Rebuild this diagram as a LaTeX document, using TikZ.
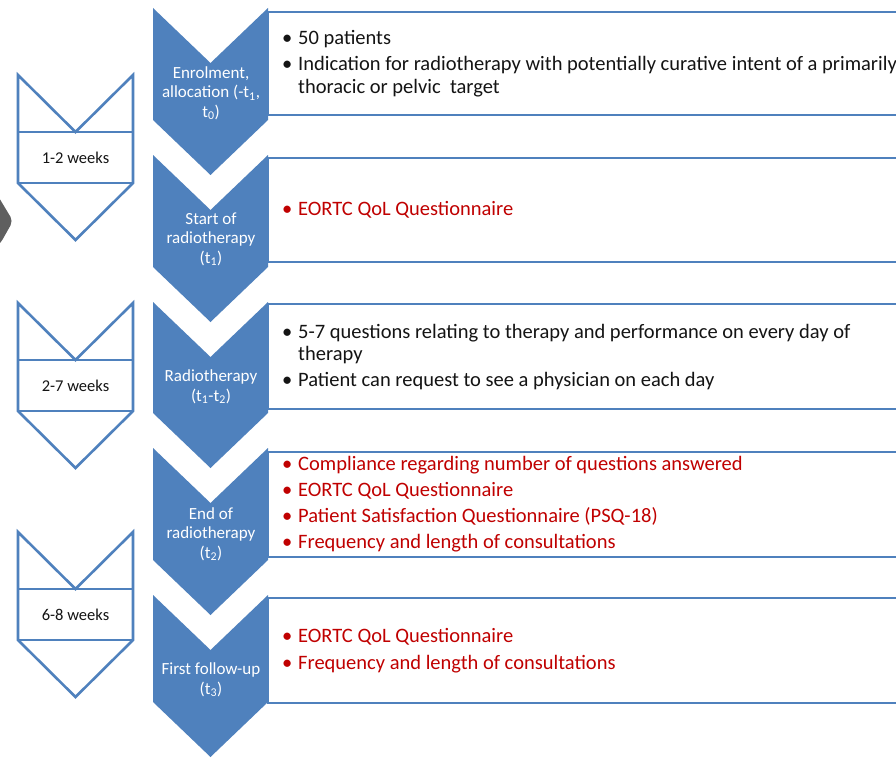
\documentclass[tikz,border=0pt]{standalone}
\usepackage{fontspec}
\setmainfont{Carlito}
\definecolor{cblue}{RGB}{79,129,189}
\definecolor{cred}{RGB}{192,0,0}
\definecolor{ctext}{RGB}{20,20,20}
\definecolor{cgray}{RGB}{95,95,95}
\newcommand{\bul}{\makebox[16pt][l]{\textbullet}}
\newcommand{\cont}{\hspace*{16pt}}
\tikzset{
  bluechev/.style={fill=cblue},
  chevtext/.style={text=white, font=\fontsize{17}{19.5}\selectfont, align=center, inner sep=0pt},
  infobox/.style={draw=cblue, line width=2.8pt, fill=white},
  boxtext/.style={anchor=west, inner sep=0pt, align=left, text=ctext, font=\fontsize{20.5}{22.5}\selectfont},
  redtext/.style={boxtext, text=cred},
  outchev/.style={draw=cblue, line width=2.6pt, fill=white, line join=miter},
  bandline/.style={draw=cblue, line width=2.6pt},
  weektext/.style={font=\fontsize{16.5}{19}\selectfont, text=ctext, inner sep=0pt}
}
\begin{document}
\begin{tikzpicture}[x=1pt,y=-1pt]
\useasboundingbox (0,0) rectangle (896,760);
\clip (0,0) rectangle (896,760);
\fill[white] (0,0) rectangle (896,760);
% gray shape at the left edge
\fill[cgray, rounded corners=5pt] (-30,175) -- (-2,196) -- (13,221) -- (0,244) -- (-30,262) -- cycle;
% left outline chevrons
\foreach \T/\lab/\nm in {75/1-2 weeks/wa, 303/2-7 weeks/wb, 532/6-8 weeks/wc}{
  \draw[outchev] (18,\T) -- (75.5,\T+57) -- (133,\T) -- (133,\T+108) -- (75.5,\T+165) -- (18,\T+108) -- cycle;
  \draw[bandline] (18,\T+57) -- (133,\T+57);
  \draw[bandline] (18,\T+108) -- (133,\T+108);
  \node[weektext] (\nm) at (75.5,\T+82.5) {\lab};
}
% blue chevrons
\foreach \T/\B in {8/167, 155/167, 302/166, 448/167, 595/162}{
  \fill[bluechev] (153,\T) -- (210.5,\T+55) -- (268,\T) -- (268,\T+\B-55) -- (210.5,\T+\B) -- (153,\T+\B-55) -- cycle;
}
% boxes
\draw[infobox] (268,12) rectangle (920,115);
\draw[infobox] (268,158) rectangle (920,262);
\draw[infobox] (268,304) rectangle (920,409);
\draw[infobox] (268,452) rectangle (920,557);
\draw[infobox] (268,598) rectangle (920,703);
% chevron labels
\node[chevtext] (c1) at (211,93) {Enrolment,\\allocation (-t\textsubscript{1},\\t\textsubscript{0})};
\node[chevtext] (c2) at (211,239) {Start of\\radiotherapy\\(t\textsubscript{1})};
\node[chevtext] (c3) at (211,387) {Radiotherapy\\(t\textsubscript{1}-t\textsubscript{2})};
\node[chevtext] (c4) at (211,534) {End of\\radiotherapy\\(t\textsubscript{2})};
\node[chevtext] (c5) at (211,680) {First follow-up\\(t\textsubscript{3})};
% box texts
\node[boxtext] (b1) at (282,63.5) {\bul 50 patients\\[3.5pt]\bul Indication for radiotherapy with potentially curative intent of a primarily\\\cont thoracic or pelvic\ \ target};
\node[redtext] (b2) at (282,210) {\bul EORTC QoL Questionnaire};
\node[boxtext] (b3) at (282,357) {\bul 5-7 questions relating to therapy and performance on every day of\\\cont therapy\\[3.5pt]\bul Patient can request to see a physician on each day};
\node[redtext] (b4) at (282,504.5) {\bul Compliance regarding number of questions answered\\[3.5pt]\bul EORTC QoL Questionnaire\\[3.5pt]\bul Patient Satisfaction Questionnaire (PSQ-18)\\[3.5pt]\bul Frequency and length of consultations};
\node[redtext] (b5) at (282,650.5) {\bul EORTC QoL Questionnaire\\[4.5pt]\bul Frequency and length of consultations};
\end{tikzpicture}
\end{document}
